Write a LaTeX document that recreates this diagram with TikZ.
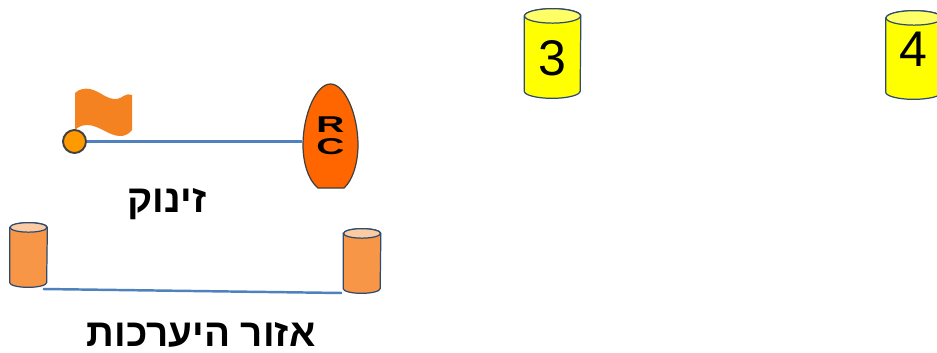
\documentclass[tikz,border=0pt]{standalone}
\usepackage{fontspec}
\setmainfont{Liberation Sans}
\newfontfamily\hebfont[Script=Hebrew]{Liberation Sans}
\TeXXeTstate=1
\usepackage{xcolor}
\usetikzlibrary{calc}
\definecolor{barrelEdge}{HTML}{2F4B6E}
\definecolor{startLine}{HTML}{4F81BD}
\definecolor{barrelBody}{HTML}{F79646}
\definecolor{barrelTop}{HTML}{FBCBA3}
\definecolor{flagFill}{HTML}{F58220}
\definecolor{markBody}{RGB}{255,255,0}
\definecolor{markTop}{RGB}{255,255,102}
\definecolor{hullFill}{RGB}{255,102,0}
\definecolor{pinFill}{RGB}{255,153,0}
% name, position, width, height, end radius, body and end colour
\newcommand{\barrel}[7]{
	\node[minimum width=#3cm,minimum height=#4cm,inner sep=0pt] (#1) at (#2) {};
	\draw[barrelline,fill=#6] ($(#1.north west)+(0,-#5)$) -- ($(#1.south west)+(0,#5)$) arc[start angle=180,end angle=360,x radius=#3cm/2,y radius=#5cm] -- ($(#1.north east)+(0,-#5)$) arc[start angle=0,end angle=180,x radius=#3cm/2,y radius=#5cm] -- cycle;
	\draw[barrelline,fill=#7] ($(#1.north)+(0,-#5)$) ellipse[x radius=#3cm/2,y radius=#5cm];
}
\tikzset{
	barrelline/.style={draw=barrelEdge,line width=0.7pt},
	digit/.style={font=\fontsize{28.5}{30}\selectfont},
	caption/.style={anchor=base,inner sep=0pt,font=\hebfont\bfseries\fontsize{22}{24}\selectfont},
	startline/.style={draw=startLine,line width=1.4pt}
}
\begin{document}
\begin{tikzpicture}
		\useasboundingbox (0,0) rectangle (18.74,7.04);
		% hull and flag
		\draw[fill=hullFill,draw=black!75,line width=0.7pt] (6.36,3.28) .. controls (6.16,3.44) and (6.06,3.80) .. (6.06,4.14) .. controls (6.06,4.74) and (6.32,5.36) .. (6.61,5.36) .. controls (6.90,5.36) and (7.16,4.74) .. (7.16,4.14) .. controls (7.16,3.80) and (7.06,3.44) .. (6.88,3.28) -- cycle;
		\fill[flagFill] (1.50,4.44) -- (1.50,5.18) .. controls (1.58,5.26) and (1.70,5.28) .. (1.80,5.26) .. controls (2.00,5.22) and (2.14,5.04) .. (2.34,5.06) .. controls (2.44,5.07) and (2.52,5.20) .. (2.64,5.14) -- (2.64,4.44) .. controls (2.56,4.34) and (2.48,4.32) .. (2.40,4.32) .. controls (2.18,4.32) and (1.98,4.54) .. (1.74,4.54) .. controls (1.64,4.54) and (1.56,4.50) .. (1.50,4.44) -- cycle;
		%
		\node[circle,draw=black!75,line width=1.1pt,fill=pinFill,minimum size=0.46cm,inner sep=0pt] (Pin) at (1.49,4.21) {};
		\node[minimum width=0.65cm,minimum height=2.08cm,inner sep=0pt,align=center,xscale=1.7,font=\bfseries\fontsize{13}{12.5}\selectfont] (Boat) at (6.61,4.32) {R\\C};
		\node[caption] (StartText) at (3.34,2.80) {\beginR זינוק\endR};
		%
		\barrel{WaitL}{0.57,1.94}{0.74}{1.28}{0.095}{barrelBody}{barrelTop}
		\barrel{WaitR}{7.24,1.82}{0.74}{1.28}{0.095}{barrelBody}{barrelTop}
		\coordinate (WaitLEnd) at (0.86,1.26);
		\coordinate (WaitREnd) at (6.84,1.18);
		\node[caption] (WaitText) at (4.02,0.11) {\beginR אזור היערכות\endR};
		%
		\barrel{Mark3}{11.05,5.97}{1.12}{1.78}{0.145}{markBody}{markTop}
		\barrel{Mark4}{18.28,5.94}{1.12}{1.76}{0.145}{markBody}{markTop}
		\node[digit] (Num3) at (11.04,5.88) {3};
		\node[digit] (Num4) at (18.26,6.06) {4};
		%
		\draw[startline] (Pin.east) -- (Pin.east -| Boat.west);
		\draw[startline] (WaitLEnd) -- (WaitREnd);
		\end{tikzpicture}
\end{document}
